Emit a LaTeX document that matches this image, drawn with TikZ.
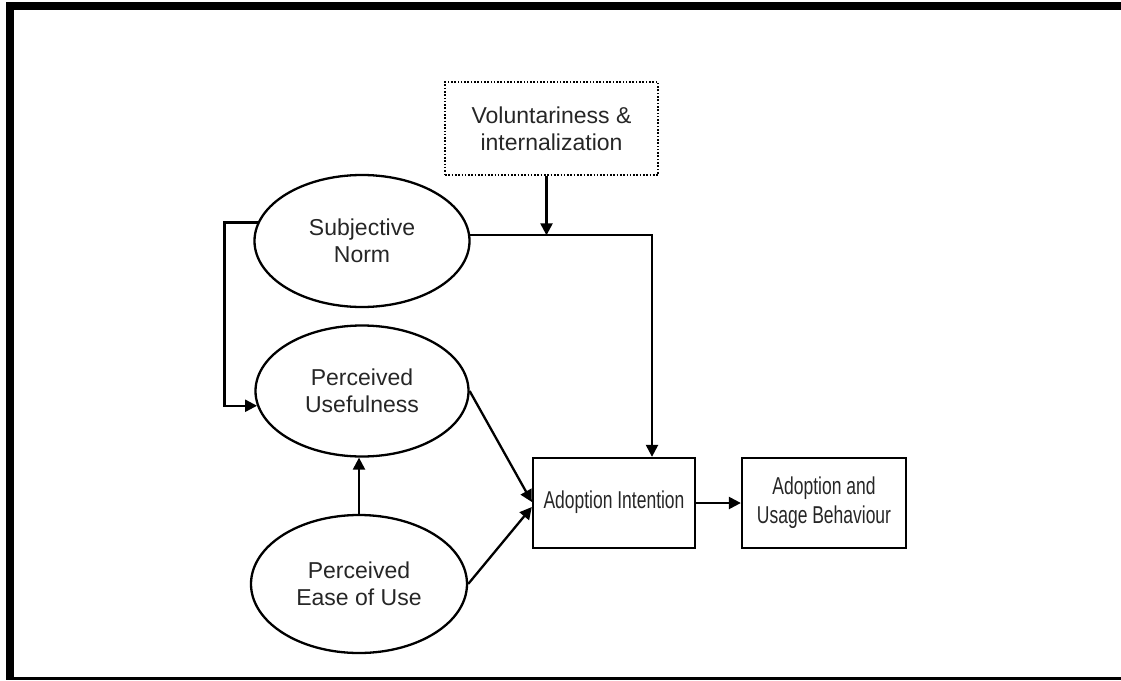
\documentclass[tikz,border=0pt]{standalone}
\usepackage{fontspec}
\setmainfont{Liberation Sans}
\usetikzlibrary{shapes.geometric,arrows.meta,calc}
\newcommand{\narrowtxt}[1]{\scalebox{0.76}[1.06]{\begin{tabular}{@{}c@{}}#1\end{tabular}}}
\begin{document}
\begin{tikzpicture}[x=1pt,y=-1pt,
  lbl/.style={font=\fontsize{23}{27}\selectfont, text=black!85, align=center},
  oval/.style={ellipse, draw, line width=2.3pt, lbl, inner sep=0pt},
  boxn/.style={rectangle, draw, line width=2.3pt, inner sep=0pt, lbl},
  conn/.style={line width=2.3pt, -{Triangle[length=12pt,width=12pt]}}]
\useasboundingbox (0,0) rectangle (1121,680);
\fill (6,2) rectangle (1121,10);
\fill (6,2) rectangle (14,680);
\fill (6,677) rectangle (1121,680);

\node[oval, minimum width=215pt, minimum height=132pt] (sn) at (362,241) {Subjective\\Norm};
\node[oval, minimum width=213pt, minimum height=131pt] (pu) at (362,391) {Perceived\\Usefulness};
\node[oval, minimum width=216pt, minimum height=138pt] (peou) at (359,584) {Perceived\\Ease of Use};
\node[boxn, dash pattern=on 1.6pt off 1.7pt, minimum width=213pt, minimum height=93pt] (vol) at (551.5,128.5) {Voluntariness \&\\internalization};
\node[boxn, minimum width=162pt, minimum height=90pt] (ai) at (614,503) {\narrowtxt{Adoption Intention}};
\node[boxn, minimum width=164pt, minimum height=90pt] (aub) at (824,503) {\narrowtxt{Adoption and\\Usage Behaviour}};

\coordinate (aitop) at ($(ai.north)+(38,0)$);
\coordinate (vs) at ($(vol.south)+(-5,0)$);

\draw[conn] (sn.170) -- ++(-33,0) |- (pu.188);
\draw[conn] (sn.3) -| (aitop);
\draw[conn] (vs) -- (vs |- sn.3);
\draw[conn] (pu.east) -- ($(ai.west)+(0,-1)$);
\draw[conn] (peou.east) -- ($(ai.west)+(0,4)$);
\draw[conn] (peou.north) -- (peou.north |- pu.south);
\draw[conn] (ai.east) -- (aub.west);
\end{tikzpicture}
\end{document}
